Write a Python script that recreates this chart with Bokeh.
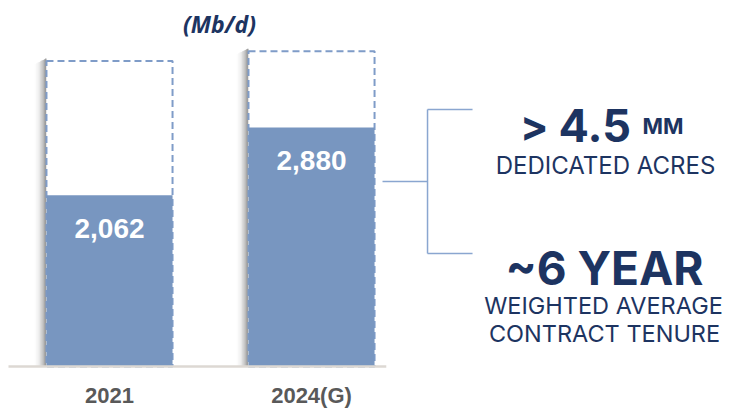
from bokeh.plotting import figure
from bokeh.models import Range1d, Label, ColumnDataSource
from bokeh.core.properties import value
from bokeh.embed import file_html
from bokeh.resources import INLINE

# ---- data ----
categories = ["2021", "2024(G)"]
throughput = [2062, 2880]          # Mb/d (solid bars)
capacity = [3680, 3800]            # dashed outline (capacity)
value_labels = ["2,062", "2,880"]
unit_label = "(Mb/d)"
stat_big = ["> 4.5", "~6 YEAR"]
stat_small = ["DEDICATED ACRES", "WEIGHTED AVERAGE\nCONTRACT TENURE"]

NAVY = "#1d3461"
BAR = "#7896c0"
DASH = "#7f9cc8"
GRAY = "#595959"

xs = list(range(len(categories)))
W = 0.624

p = figure(width=730, height=408, output_backend="svg", toolbar_location=None,
           x_range=Range1d(-0.5396, 3.074), y_range=Range1d(-506, 4410),
           min_border=0, outline_line_color=None)
p.axis.visible = False
p.grid.visible = False
p.background_fill_color = "white"

# left shadow gradient
for k, a in enumerate([0.42, 0.34, 0.27, 0.20, 0.14, 0.09, 0.05, 0.03, 0.015]):
    d = 0.0065
    p.quad(left=[x - W / 2 - (k + 1) * d for x in xs],
           right=[x - W / 2 - k * d for x in xs],
           bottom=[0] * len(xs), top=[c + 30 - k * 8 for c in capacity],
           fill_color="black", fill_alpha=a, line_color=None)

# capacity dashed outline
src = ColumnDataSource(dict(x=xs, zero=[0] * len(xs), cap=capacity, val=throughput,
                            lab=value_labels, cat=categories))
p.vbar(x="x", top="cap", bottom=0, width=W, source=src, fill_color="white",
       line_color=DASH, line_width=2, line_dash="7 4")
# solid throughput bars
p.vbar(x="x", top="val", bottom=0, width=W, source=src, fill_color=BAR, line_color=None)

# baseline
p.line(x=[-0.5, 1.37], y=[0, 0], line_color="#ddd8d3", line_width=2.5)

# value labels
p.text(x="x", y="val", text="lab", source=src, text_color="white",
       text_font=value("Liberation Sans"), text_font_style="bold", text_font_size="28px",
       text_align="center", text_baseline="middle", y_offset=33)
# category labels
p.text(x="x", y="zero", text="cat", source=src, text_color=GRAY,
       text_font=value("Liberation Sans"), text_font_style="bold", text_font_size="22px",
       text_align="center", text_baseline="middle", y_offset=29)

# unit label
p.add_layout(Label(x=219, y=408 - 23, x_units="screen", y_units="screen", text=unit_label,
                   text_color=NAVY, text_font="Open Sans", text_font_style="bold italic",
                   text_font_size="23px", text_align="center", text_baseline="middle"))

# bracket
bc = "#8aa6d0"
for xs_, ys_ in [([382, 427], [181, 181]), ([427, 427], [109, 253]),
                 ([427, 472], [109, 109]), ([427, 472], [253, 253])]:
    p.line(x=[(v - 109) / 202 for v in xs_], y=[(366 - v) / 0.083 for v in ys_],
           line_color=bc, line_width=1.5)

def lab(x, y, t, size, style="normal", align="center", font="Inter"):
    p.add_layout(Label(x=x, y=408 - y, x_units="screen", y_units="screen", text=t,
                       text_color=NAVY, text_font=font, text_font_style=style,
                       text_font_size=size, text_align=align, text_baseline="alphabetic"))

big_a = stat_big[0].split(" ")
lab(548, 125, big_a[0], "42px", "bold", "right")
lab(558, 125, big_a[1], "45px", "bold", "left")
lab(642, 125, "MM", "22px", "bold", "left")
lab(605, 165, stat_small[0], "24px")
lab(604, 267, stat_big[1], "46px", "bold")
l1, l2 = stat_small[1].split("\n")
lab(603, 305, l1, "23.5px")
lab(604, 333, l2, "23.5px")

open("out.html", "w").write(file_html(p, INLINE))
